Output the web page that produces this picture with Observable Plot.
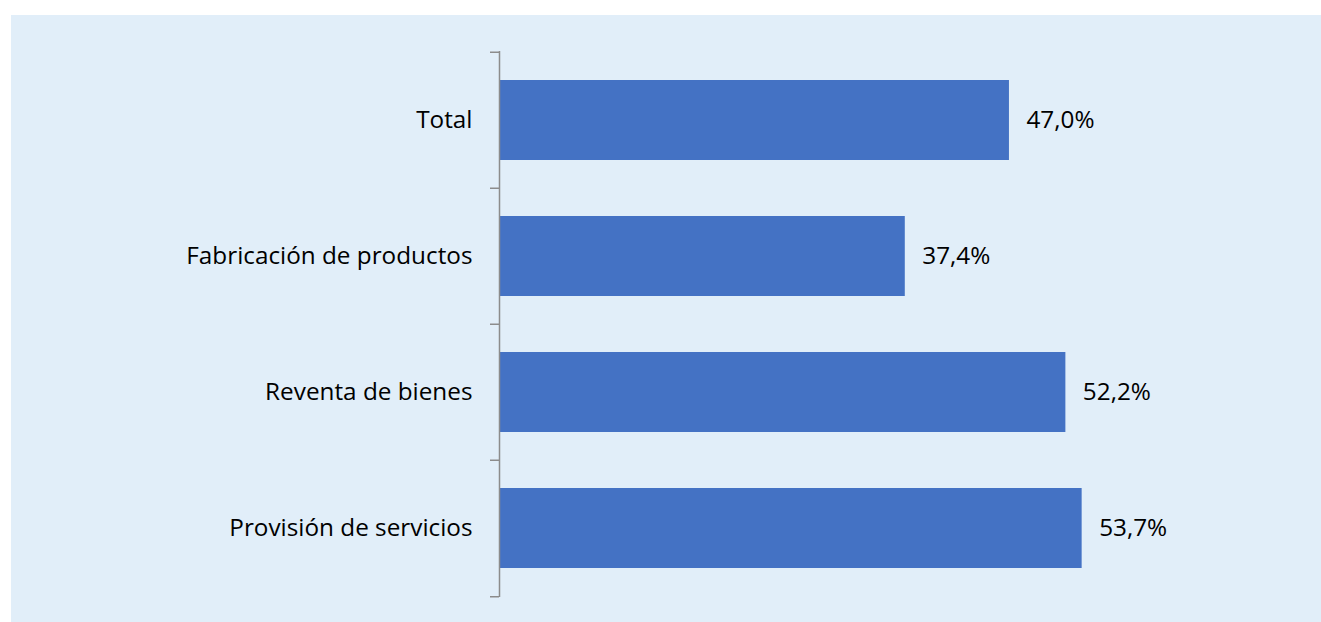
<!DOCTYPE html>
<html>
<head>
<meta charset="utf-8">
<script src="https://cdn.jsdelivr.net/npm/d3@7"></script>
<script src="https://cdn.jsdelivr.net/npm/@observablehq/plot@0.6"></script>
<style>
  html, body { margin: 0; padding: 0; background: #ffffff; }
  #panel { position: absolute; left: 11px; top: 15px; width: 1310px; height: 607px; background: #E1EEF9; }
  #panel svg { display: block; }
</style>
</head>
<body>
<div id="panel"></div>
<script>
const categories = ["Total", "Fabricación de productos", "Reventa de bienes", "Provisión de servicios"];
const values = [47.0, 37.4, 52.2, 53.7];
const labels = ["47,0%", "37,4%", "52,2%", "53,7%"];

const data = categories.map((c, i) => ({cat: c, value: values[i], label: labels[i]}));

const W = 1310, H = 607, mt = 36, mb = 25;
const step = (H - mt - mb) / categories.length;
const font = "'Open Sans', sans-serif";
const fs = 24.3;

const chart = Plot.plot({
  width: W,
  height: H,
  marginLeft: 488,
  marginRight: 171,
  marginTop: mt,
  marginBottom: mb,
  style: {background: "transparent", fontFamily: font, fontSize: fs + "px", color: "#000"},
  x: {domain: [0, 60], axis: null},
  y: {domain: categories, paddingInner: 0.414, paddingOuter: 0.207, axis: null},
  marks: [
    Plot.barX(data, {x: "value", y: "cat", fill: "#4472C4", insetLeft: 1}),
    Plot.ruleX([0], {stroke: "#8C8C8C", strokeWidth: 1.5}),
    Plot.axisY({anchor: "left", tickSize: 0, tickPadding: 27, fontSize: fs, fill: "#000", fontFamily: font, label: null}),
    Plot.axisY(categories, {anchor: "left", tickSize: 9, text: null, label: null, dy: -step / 2, stroke: "#8C8C8C", strokeWidth: 1.5}),
    Plot.axisY([categories[categories.length - 1]], {anchor: "left", tickSize: 9, text: null, label: null, dy: step / 2, stroke: "#8C8C8C", strokeWidth: 1.5}),
    Plot.text(data, {x: "value", y: "cat", text: "label", textAnchor: "start", dx: 17, fontSize: fs, fill: "#000", fontFamily: font})
  ]
});
document.getElementById("panel").appendChild(chart);
</script>
</body>
</html>
